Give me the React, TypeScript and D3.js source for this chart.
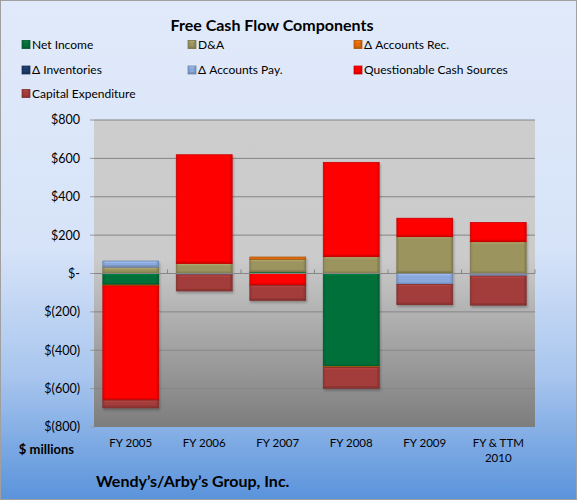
import React from 'react';
import * as d3 from 'd3';

const categories = ['FY 2005', 'FY 2006', 'FY 2007', 'FY 2008', 'FY 2009', 'FY & TTM 2010'];
const netIncome = [-60, 0, 8, -485, 4, 0];
const depreciation = [33, 52, 66, 88, 188, 166];
const accountsRec = [-5, 0, 12, -5, 0, -4];
const inventories = [0, -3, 0, 0, 0, 0];
const accountsPay = [32, -4, 0, 0, -57, -9];
const questionable = [-595, 567, -62, 491, 96, 100];
const capex = [-40, -84, -78, -108, -105, -152];
const yTicks = [800, 600, 400, 200, 0, -200, -400, -600, -800];

const seriesNames = ['Net Income', 'D&A', '\u0394 Accounts Rec.', '\u0394 Inventories', '\u0394 Accounts Pay.', 'Questionable Cash Sources', 'Capital Expenditure'];
const seriesValues = [netIncome, depreciation, accountsRec, inventories, accountsPay, questionable, capex];
const seriesColors = ['#05703a', '#9c945f', '#e46c0a', '#1f3b6b', '#8aa8dc', '#ff0000', '#a33c3a'];

const W = 578;
const H = 502;
const font = 'Lato, Carlito, sans-serif';

const fmt = (v: number) => (v === 0 ? '$-' : v > 0 ? `$${v}` : `$(${-v})`);

// rough imitation of Excel's bevelled bars
function Bevel({ x, y, w, h, color }: { x: number; y: number; w: number; h: number; color: string }) {
  const c = d3.color(color)!;
  const dark = c.darker(0.8).formatHex();
  const shade = c.darker(0.5).formatHex();
  const light = c.brighter(0.5).formatHex();
  const e = Math.min(2, h / 3, w / 3);
  return (
    <g>
      <rect x={x} y={y} width={w} height={h} fill={color} />
      {h > 4 && (
        <>
          <rect x={x} y={y} width={w} height={e} fill={light} opacity={0.55} />
          <rect x={x} y={y + h - e} width={w} height={e} fill={shade} opacity={0.8} />
          <rect x={x + w - e} y={y} width={e} height={h} fill={shade} opacity={0.6} />
          <rect x={x} y={y} width={e} height={h} fill={shade} opacity={0.35} />
        </>
      )}
      <rect x={x} y={y} width={w} height={h} fill="none" stroke={dark} strokeWidth={0.9} strokeOpacity={0.8} />
    </g>
  );
}

export default function App() {
  const plot = { left: 94, right: 535, top: 120, bottom: 427 };

  const x = d3.scaleBand<string>()
    .domain(categories)
    .range([plot.left, plot.right])
    .paddingInner(0.24)
    .paddingOuter(0.12);

  const y = d3.scaleLinear().domain([-800, 800]).range([plot.bottom, plot.top]);

  const table = categories.map((c, i) => {
    const row: Record<string, number | string> = { cat: c };
    seriesNames.forEach((n, k) => (row[n] = seriesValues[k][i]));
    return row;
  });

  const stack = d3.stack<Record<string, number | string>>()
    .keys(seriesNames)
    .value((d, k) => d[k] as number)
    .offset(d3.stackOffsetDiverging);
  const layers = stack(table);

  const legendCols = [22, 188, 354];
  const legendRows = [44.5, 70, 93.5];

  return (
    <svg width={W} height={H} style={{ position: 'absolute', left: 0, top: 0 }} fontFamily={font}>
      <defs>
        <linearGradient id="bg" x1="0" y1="0" x2="0" y2="1">
          <stop offset="0" stopColor="#e1eafa" />
          <stop offset="0.5" stopColor="#d6e3f8" />
          <stop offset="0.75" stopColor="#a9c6ee" />
          <stop offset="1" stopColor="#5a93db" />
        </linearGradient>
        <linearGradient id="plotbg" gradientUnits="userSpaceOnUse" x1="0" y1={plot.top} x2="0" y2={plot.bottom}>
          <stop offset="0" stopColor="#cdcdcd" />
          <stop offset="0.45" stopColor="#cbcbcb" />
          <stop offset="1" stopColor="#7d7d7d" />
        </linearGradient>
        <filter id="shadow" x="-10%" y="-10%" width="130%" height="130%">
          <feDropShadow dx="1" dy="2" stdDeviation="1.2" floodColor="#000" floodOpacity="0.25" />
        </filter>
      </defs>

      <rect x={0.5} y={0.5} width={W - 2} height={H - 3} fill="url(#bg)" stroke="#a0a0a0" />

      <text x={272} y={31} textAnchor="middle" fontSize={16} fontWeight="bold" fill="#000">
        Free Cash Flow Components
      </text>

      {seriesNames.map((n, i) => {
        const cx = legendCols[i % 3];
        const cy = legendRows[Math.floor(i / 3)];
        return (
          <g key={n}>
            <Bevel x={cx} y={cy - 4} w={8} h={8} color={seriesColors[i]} />
            <text x={cx + 10} y={cy} dy="0.35em" fontSize={12} fill="#000">{n}</text>
          </g>
        );
      })}

      <rect x={plot.left} y={plot.top} width={plot.right - plot.left} height={plot.bottom - plot.top} fill="url(#plotbg)" />

      {yTicks.map((t) => (
        <g key={t}>
          {t !== 0 && t !== -800 && (
            <line x1={plot.left} x2={plot.right} y1={y(t)} y2={y(t)} stroke="#858585" strokeWidth={1} />
          )}
          <line x1={plot.left - 4} x2={plot.left} y1={y(t)} y2={y(t)} stroke="#9a9a9a" />
          <text x={80} y={y(t)} dy="0.35em" textAnchor="end" fontSize={12.5} fill="#000">{fmt(t)}</text>
        </g>
      ))}

      <g filter="url(#shadow)">
        {layers.map((layer, k) =>
          layer.map((seg, i) => {
            const v0 = seg[0];
            const v1 = seg[1];
            if (v1 === v0) return null;
            const top = y(Math.max(v0, v1));
            const h = Math.abs(y(v0) - y(v1));
            return (
              <Bevel key={`${k}-${i}`} x={x(categories[i])!} y={top} w={x.bandwidth()} h={h} color={seriesColors[k]} />
            );
          })
        )}
      </g>

      <line x1={plot.left} x2={plot.right} y1={y(0)} y2={y(0)} stroke="#868686" strokeWidth={1.2} />
      {categories.map((c, i) => (
        <line key={c} x1={plot.left + x.step() * (i + 1)} x2={plot.left + x.step() * (i + 1)} y1={y(0) - 4} y2={y(0)} stroke="#868686" />
      ))}

      {categories.map((c) => {
        const cx = x(c)! + x.bandwidth() / 2;
        const lines = c === 'FY & TTM 2010' ? ['FY & TTM', '2010'] : [c];
        return (
          <text key={c} x={cx} y={443} textAnchor="middle" fontSize={11.5} fill="#000">
            {lines.map((l, j) => (
              <tspan key={j} x={cx} dy={j === 0 ? '0.35em' : 15}>{l}</tspan>
            ))}
          </text>
        );
      })}

      <text x={74} y={449} dy="0.35em" textAnchor="end" fontSize={13} fontWeight="bold" fill="#000">$ millions</text>
      <text x={96} y={481} dy="0.35em" fontSize={16} fontWeight="bold" fill="#000">Wendy’s/Arby’s Group, Inc.</text>
    </svg>
  );
}
